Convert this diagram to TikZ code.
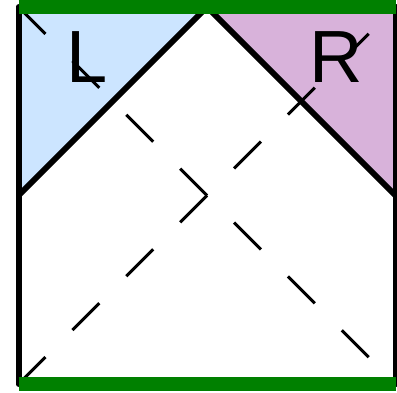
\documentclass[tikz,border=0pt]{standalone}
\usepackage{fontspec}
\setmainfont{Liberation Sans}
\definecolor{lblue}{RGB}{204,229,255}
\definecolor{lpurple}{RGB}{216,178,218}
\definecolor{dgreen}{RGB}{0,128,0}
\begin{document}
\begin{tikzpicture}[x=1pt,y=1pt,
 edge/.style={line width=6pt},
 boundary/.style={line width=14pt, draw=dgreen},
 ray/.style={line width=3pt, dash pattern=on 38.1pt off 38.1pt},
 lab/.style={font=\fontsize{74}{74}\selectfont, inner sep=0pt, anchor=base}]
\useasboundingbox (0,0) rectangle (397,392);
\coordinate (tl) at (18.5,385);
\coordinate (tr) at (395.5,385);
\coordinate (bl) at (18.5,8);
\coordinate (br) at (395.5,8);
\coordinate (apex) at (207,385);
\coordinate (lm) at (18.5,196.5);
\coordinate (rm) at (395.5,196.5);
\fill[lblue] (tl) -- (apex) -- (lm) -- cycle;
\fill[lpurple] (apex) -- (tr) -- (rm) -- cycle;
\node[lab] (L) at (87,309) {L};
\node[lab] (R) at (336,309) {R};
\draw[ray] (tl) -- (br);
\draw[ray] (bl) -- (tr);
\draw[edge, line cap=round] (tl) -- (bl);
\draw[edge, line cap=round] (tr) -- (br);
\draw[edge] (lm) -- (apex) -- (rm);
\draw[boundary] (tl) -- (tr);
\draw[boundary] (bl) -- (br);
\end{tikzpicture}
\end{document}
